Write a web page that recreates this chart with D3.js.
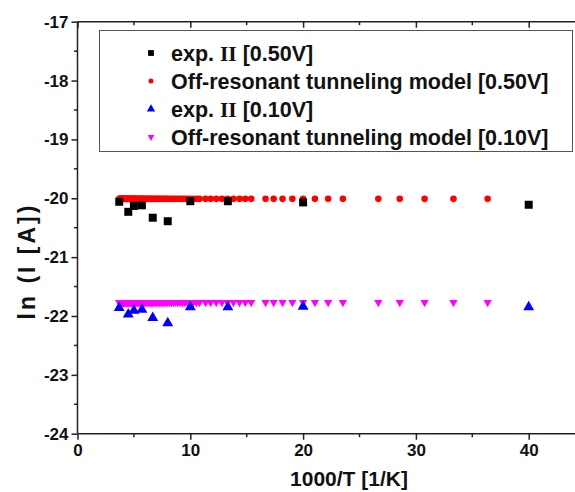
<!DOCTYPE html>
<html>
<head>
<meta charset="utf-8">
<script src="https://cdn.jsdelivr.net/npm/d3@7"></script>
<style>
    html, body { margin: 0; padding: 0; background: #fff; }
    svg text { font-family: "Liberation Sans", Arial, sans-serif; font-weight: bold; fill: #111; }
</style>
</head>
<body>
<div id="chart"></div>
<script>
// ln(I) vs 1000/T — experiment II against off-resonant tunneling model

// Experimental points (same temperatures for both bias values)
const expX = [3.70, 4.50, 5.00, 5.71, 6.67, 8.00, 10.00, 13.33, 20.00, 40.00];
const exp050Y = [-20.06, -20.23, -20.13, -20.12, -20.33, -20.39, -20.05, -20.05, -20.07, -20.11];
const exp010Y = [-21.86, -21.97, -21.91, -21.89, -22.03, -22.12, -21.85, -21.85, -21.84, -21.85];

// Model points (1000/T)
const modelX = [
    3.70, 3.74, 3.77, 3.81, 3.85, 3.88, 3.92, 3.96, 4.00, 4.04, 4.08, 4.12, 4.17, 4.21, 4.26, 4.30,
    4.35, 4.40, 4.44, 4.49, 4.55, 4.60, 4.65, 4.71, 4.76, 4.82, 4.88, 4.94, 5.00, 5.06, 5.13, 5.19,
    5.26, 5.33, 5.41, 5.48, 5.56, 5.63, 5.71, 5.80, 5.88, 5.97, 6.06, 6.15, 6.25, 6.35, 6.45, 6.56,
    6.67, 6.78, 6.90, 7.02, 7.14, 7.27, 7.41, 7.55, 7.69, 7.84, 8.00, 8.16, 8.33, 8.51, 8.70, 8.89,
    9.09, 9.30, 9.52, 9.76, 10.00, 10.26, 10.53, 10.81, 11.35, 11.80, 12.30, 12.80, 13.30, 13.83,
    14.36, 14.87, 15.40, 16.67, 17.39, 18.18, 19.05, 20.00, 21.05, 22.22, 23.53, 26.67, 28.57, 30.77,
    33.33, 36.36
];
const model050Y = modelX.map(() => -20.01);   // flat model curve, read as constant
const model010Y = modelX.map(() => -21.77);

const xTicks = [0, 10, 20, 30, 40];
const xMinor = [5, 15, 25, 35];
const yTicks = [-17, -18, -19, -20, -21, -22, -23, -24];
const yMinor = [-17.5, -18.5, -19.5, -20.5, -21.5, -22.5, -23.5];

const legendItems = [
    { pre: 'exp. ', roman: 'II', post: ' [0.50V]', shape: d3.symbolSquare, size: 34, color: '#000', rot: 0 },
    { pre: 'Off-resonant tunneling model [0.50V]', shape: d3.symbolCircle, size: 20, color: '#ff0000', rot: 0 },
    { pre: 'exp. ', roman: 'II', post: ' [0.10V]', shape: d3.symbolTriangle, size: 30, color: '#0000ff', rot: 0 },
    { pre: 'Off-resonant tunneling model [0.10V]', shape: d3.symbolTriangle, size: 20, color: '#ff00ff', rot: 180 }
];

const width = 575;
const height = 492;

const svg = d3.select('#chart')
    .append('svg')
    .attr('width', width)
    .attr('height', height);

const x = d3.scaleLinear().domain([0, 45]).range([77.5, 585.1]);
const y = d3.scaleLinear().domain([-24, -17]).range([433.7, 21.7]);

const axisColor = '#222';
const fmt = d => String(d);   // plain hyphen minus like the original

// Bottom axis
const xAxis = svg.append('g')
    .attr('transform', `translate(0,${y(-24)})`)
    .call(d3.axisBottom(x).tickValues(xTicks).tickSize(6).tickPadding(4).tickFormat(fmt));
xAxis.append('g').selectAll('line').data(xMinor).enter().append('line')
    .attr('x1', d => x(d)).attr('x2', d => x(d)).attr('y1', 0).attr('y2', 3.5);

// Top axis, ticks pointing inward
const topAxis = svg.append('g')
    .attr('transform', `translate(0,${y(-17)})`)
    .call(d3.axisBottom(x).tickValues(xTicks).tickSize(6).tickFormat(''));
topAxis.append('g').selectAll('line').data(xMinor).enter().append('line')
    .attr('x1', d => x(d)).attr('x2', d => x(d)).attr('y1', 0).attr('y2', 3.5);

// Left axis
const yAxis = svg.append('g')
    .attr('transform', `translate(${x(0)},0)`)
    .call(d3.axisLeft(y).tickValues(yTicks).tickSize(6).tickPadding(3).tickFormat(fmt));
yAxis.append('g').selectAll('line').data(yMinor).enter().append('line')
    .attr('x1', 0).attr('x2', -3.5).attr('y1', d => y(d)).attr('y2', d => y(d));

[xAxis, topAxis, yAxis].forEach(g => {
    g.select('.domain').attr('stroke', axisColor).attr('stroke-width', 1.5);
    g.selectAll('line').attr('stroke', axisColor).attr('stroke-width', 1.5);
    g.selectAll('text').attr('font-size', 17).attr('font-family', null).attr('fill', '#111');
});
topAxis.select('.domain').attr('d', `M${x(0)},0H${x(45)}`);
xAxis.select('.domain').attr('d', `M${x(0)},0H${x(45)}`);
yAxis.select('.domain').attr('d', `M0,${y(-24)}V${y(-17)}`);

// Axis titles
svg.append('text')
    .attr('x', 349)
    .attr('y', 486)
    .attr('text-anchor', 'middle')
    .attr('font-size', 21)
    .text('1000/T [1/K]');

svg.append('text')
    .attr('transform', 'translate(35,261) rotate(-90)')
    .attr('text-anchor', 'middle')
    .attr('font-size', 23)
    .attr('letter-spacing', 3)
    .text('ln (I [A])');

// Series: model first, experiment drawn on top
function drawSeries(xs, ys, shape, size, color, rot) {
    svg.append('g').selectAll('path')
        .data(xs.map((v, i) => [v, ys[i]]))
        .enter().append('path')
        .attr('d', d3.symbol().type(shape).size(size))
        .attr('transform', d => `translate(${x(d[0])},${y(d[1])}) rotate(${rot})`)
        .attr('fill', color);
}

drawSeries(modelX, model050Y, d3.symbolCircle, 34, '#ff0000', 0);
drawSeries(expX, exp050Y, d3.symbolSquare, 64, '#000', 0);
drawSeries(modelX, model010Y, d3.symbolTriangle, 30, '#ff00ff', 180);
drawSeries(expX, exp010Y, d3.symbolTriangle, 52, '#0000ff', 0);

// Legend
const legend = svg.append('g');
legend.append('rect')
    .attr('x', 99.5).attr('y', 30.5)
    .attr('width', 473).attr('height', 121)
    .attr('fill', '#fff')
    .attr('stroke', '#555')
    .attr('stroke-width', 1);

const rowY = d3.scalePoint().domain(d3.range(legendItems.length)).range([53, 137]);

legendItems.forEach((item, i) => {
    legend.append('path')
        .attr('d', d3.symbol().type(item.shape).size(item.size))
        .attr('transform', `translate(151,${rowY(i)}) rotate(${item.rot})`)
        .attr('fill', item.color);
    const t = legend.append('text')
        .attr('x', 171)
        .attr('y', rowY(i))
        .attr('dy', '0.35em')
        .attr('font-size', 21.5)
        .attr('xml:space', 'preserve');
    t.append('tspan').text(item.pre);
    if (item.roman) {
        t.append('tspan')
            .style('font-family', '"Liberation Serif", "Times New Roman", serif')
            .text(item.roman);
        t.append('tspan').text(item.post);
    }
});
</script>
</body>
</html>
